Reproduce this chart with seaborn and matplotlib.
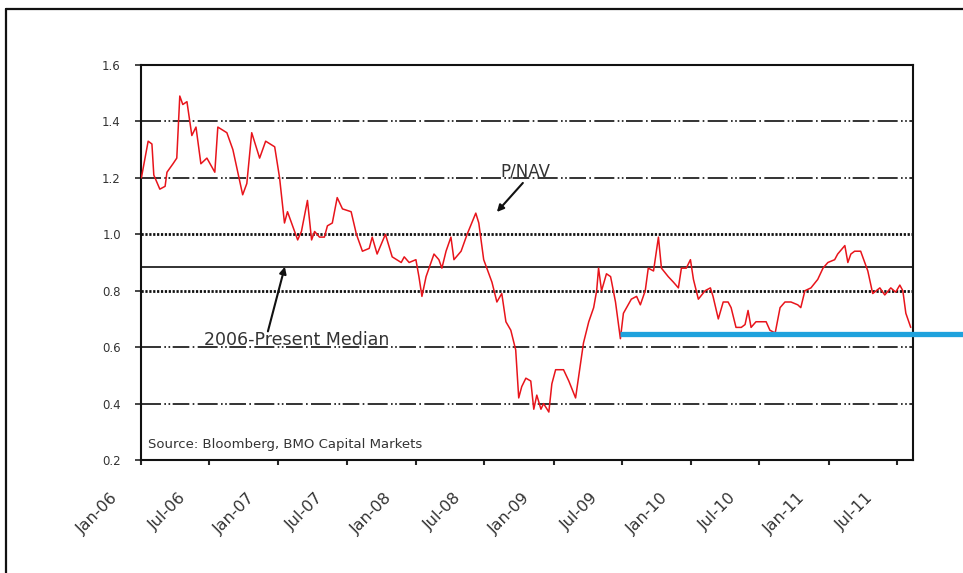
import matplotlib
matplotlib.use("Agg")
import matplotlib.pyplot as plt
import matplotlib.transforms as mtransforms
from matplotlib.lines import Line2D
import pandas as pd
import seaborn as sns

# ---------------- data ----------------
dates = [
    "2006-01-02", "2006-01-20", "2006-01-30", "2006-02-04", "2006-02-20", "2006-03-06",
    "2006-03-11", "2006-03-27", "2006-04-06", "2006-04-14", "2006-04-22", "2006-05-03",
    "2006-05-16", "2006-05-27", "2006-06-09", "2006-06-25", "2006-07-16", "2006-07-24",
    "2006-08-17", "2006-09-02", "2006-09-28", "2006-10-09", "2006-10-22", "2006-11-12",
    "2006-11-28", "2006-12-22", "2007-01-04", "2007-01-17", "2007-01-25", "2007-02-21",
    "2007-03-03", "2007-03-19", "2007-03-30", "2007-04-07", "2007-04-20", "2007-05-03",
    "2007-05-11", "2007-05-24", "2007-06-06", "2007-06-20", "2007-07-13", "2007-07-27",
    "2007-08-12", "2007-08-30", "2007-09-07", "2007-09-20", "2007-10-12", "2007-10-30",
    "2007-11-23", "2007-12-01", "2007-12-14", "2008-01-01", "2008-01-09", "2008-01-17",
    "2008-01-28", "2008-02-18", "2008-03-02", "2008-03-10", "2008-03-21", "2008-04-03",
    "2008-04-11", "2008-04-30", "2008-05-16", "2008-06-08", "2008-06-16", "2008-06-29",
    "2008-07-21", "2008-08-03", "2008-08-16", "2008-08-27", "2008-09-09", "2008-09-22",
    "2008-09-30", "2008-10-08", "2008-10-19", "2008-11-01", "2008-11-09", "2008-11-17",
    "2008-11-28", "2008-12-05", "2008-12-19", "2008-12-27", "2009-01-06", "2009-01-27",
    "2009-02-10", "2009-02-28", "2009-03-13", "2009-03-21", "2009-04-04", "2009-04-17",
    "2009-04-25", "2009-04-30", "2009-05-08", "2009-05-21", "2009-06-01", "2009-06-14",
    "2009-06-27", "2009-07-05", "2009-07-26", "2009-08-09", "2009-08-19", "2009-09-01",
    "2009-09-09", "2009-09-23", "2009-10-06", "2009-10-14", "2009-11-01", "2009-11-15",
    "2009-11-28", "2009-12-06", "2009-12-19", "2009-12-30", "2010-01-07", "2010-01-20",
    "2010-02-07", "2010-02-21", "2010-02-28", "2010-03-14", "2010-03-27", "2010-04-09",
    "2010-04-17", "2010-04-30", "2010-05-14", "2010-05-24", "2010-06-01", "2010-06-09",
    "2010-06-22", "2010-07-06", "2010-07-19", "2010-07-29", "2010-08-12", "2010-08-25",
    "2010-09-07", "2010-09-23", "2010-10-11", "2010-10-19", "2010-10-30", "2010-11-15",
    "2010-12-03", "2010-12-17", "2010-12-30", "2011-01-17", "2011-01-25", "2011-02-13",
    "2011-02-21", "2011-03-01", "2011-03-11", "2011-03-27", "2011-04-07", "2011-04-15",
    "2011-04-28", "2011-05-17", "2011-05-30", "2011-06-15", "2011-06-28", "2011-07-09",
    "2011-07-17", "2011-07-25", "2011-08-07",
]
pnav = [
    1.20, 1.33, 1.32, 1.21, 1.16, 1.17,
    1.22, 1.25, 1.27, 1.49, 1.46, 1.47,
    1.35, 1.38, 1.25, 1.27, 1.22, 1.38,
    1.36, 1.30, 1.14, 1.18, 1.36, 1.27,
    1.33, 1.31, 1.20, 1.04, 1.08, 0.98,
    1.01, 1.12, 0.98, 1.01, 0.99, 0.99,
    1.03, 1.04, 1.13, 1.09, 1.08, 1.00,
    0.94, 0.95, 0.99, 0.93, 1.00, 0.92,
    0.90, 0.92, 0.90, 0.91, 0.85, 0.78,
    0.85, 0.93, 0.91, 0.88, 0.94, 0.99,
    0.91, 0.94, 1.00, 1.075, 1.04, 0.91,
    0.83, 0.76, 0.79, 0.69, 0.66, 0.59,
    0.42, 0.46, 0.49, 0.48, 0.38, 0.43,
    0.38, 0.40, 0.37, 0.47, 0.52, 0.52,
    0.48, 0.42, 0.54, 0.615, 0.69, 0.74,
    0.80, 0.88, 0.80, 0.86, 0.85, 0.76,
    0.63, 0.72, 0.77, 0.78, 0.75, 0.80,
    0.88, 0.87, 0.99, 0.88, 0.85, 0.83,
    0.81, 0.88, 0.88, 0.91, 0.84, 0.77,
    0.80, 0.81, 0.78, 0.70, 0.76, 0.76,
    0.74, 0.67, 0.67, 0.68, 0.73, 0.67,
    0.69, 0.69, 0.69, 0.66, 0.65, 0.74,
    0.76, 0.76, 0.75, 0.74, 0.80, 0.81,
    0.84, 0.88, 0.90, 0.91, 0.93, 0.96,
    0.90, 0.93, 0.94, 0.94, 0.90, 0.87,
    0.79, 0.81, 0.785, 0.81, 0.795, 0.82,
    0.80, 0.72, 0.67,
]
median_value = 0.885
current_level = 0.647
current_start = "2009-06-27"

y_ticks = [0.2, 0.4, 0.6, 0.8, 1.0, 1.2, 1.4, 1.6]
y_tick_labels = ["0.2", "0.4", "0.6", "0.8", "1.0", "1.2", "1.4", "1.6"]
x_tick_dates = ["2006-01-01", "2006-07-01", "2007-01-01", "2007-07-01", "2008-01-01",
                "2008-07-01", "2009-01-01", "2009-07-01", "2010-01-01", "2010-07-01",
                "2011-01-01", "2011-07-01"]
x_tick_labels = ["Jan-06", "Jul-06", "Jan-07", "Jul-07", "Jan-08", "Jul-08", "Jan-09",
                 "Jul-09", "Jan-10", "Jul-10", "Jan-11", "Jul-11"]
x_start, x_end = "2006-01-01", "2011-08-13"

grid_dashdot = [0.4, 0.6, 1.2, 1.4]
grid_dotted = [0.8, 1.0]

# ---------------- figure ----------------
sns.set_style("white")
plt.rcParams["font.family"] = ["DejaVu Sans"]

df = pd.DataFrame({"date": pd.to_datetime(dates), "pnav": pnav})

fig = plt.figure(figsize=(9.63, 5.73), dpi=100)
ax = fig.add_axes([141 / 963, 1 - 460 / 573, (913 - 141) / 963, (460 - 65) / 573])

for g in grid_dashdot:
    ax.axhline(g, color="#111111", lw=1.2, zorder=1,
               linestyle=(0, (12, 2, 1, 1.5, 1, 1.5, 10, 2, 1, 2)))
for g in grid_dotted:
    ax.axhline(g, color="#111111", lw=2.0, zorder=1, linestyle=(0, (0.8, 0.6)))
ax.axhline(median_value, color="#222222", lw=1.3, zorder=2)

sns.lineplot(data=df, x="date", y="pnav", ax=ax, color="#E8141B", lw=1.1, zorder=3)

ax.set_xlim(pd.Timestamp(x_start), pd.Timestamp(x_end))
ax.set_ylim(y_ticks[0], y_ticks[-1])
ax.set_xlabel("")
ax.set_ylabel("")

ax.set_yticks(y_ticks)
ax.set_yticklabels(y_tick_labels, fontsize=8.5, color="#333333")
ax.set_xticks(pd.to_datetime(x_tick_dates))
ax.set_xticklabels(x_tick_labels, fontsize=11.5, color="#333333", rotation=45,
                   ha="right", va="center", rotation_mode="anchor")
ax.tick_params(axis="y", direction="out", length=4.5, width=1.2, pad=10, left=True)
ax.tick_params(axis="x", direction="out", length=3.8, width=1.5, pad=13, bottom=True)
offset = mtransforms.ScaledTranslation(-0.26, -0.12, fig.dpi_scale_trans)
for lab in ax.get_xticklabels():
    lab.set_transform(lab.get_transform() + offset)

for side in ["left", "right", "top", "bottom"]:
    ax.spines[side].set_visible(True)
    ax.spines[side].set_color("#111111")
    ax.spines[side].set_linewidth(1.5)

# blue current-level line extending to the figure edge
x_fig_edge = ax.transData.inverted().transform(fig.transFigure.transform((1.0, 0.0)))[0]
x_blue_start = matplotlib.dates.date2num(pd.Timestamp(current_start))
ax.plot([x_blue_start, x_fig_edge], [current_level, current_level], color="#1FA2DD",
        lw=3.8, solid_capstyle="butt", clip_on=False, zorder=4)

# annotations
ax.text(pd.Timestamp("2008-10-17"), 1.221, "P/NAV", fontsize=12, color="#333333",
        ha="center", va="center", zorder=5)
ax.annotate("", xy=(pd.Timestamp("2008-08-03"), 1.079),
            xytext=(pd.Timestamp("2008-10-11"), 1.182),
            arrowprops=dict(arrowstyle="-|>", color="#111111", lw=1.5,
                            mutation_scale=10, shrinkA=0, shrinkB=0), zorder=5)
ax.text(pd.Timestamp("2007-02-18"), 0.627, "2006-Present Median", fontsize=12.5,
        color="#333333", ha="center", va="center", zorder=5)
ax.annotate("", xy=(pd.Timestamp("2007-01-18"), median_value),
            xytext=(pd.Timestamp("2006-12-04"), 0.656),
            arrowprops=dict(arrowstyle="-|>", color="#111111", lw=1.5,
                            mutation_scale=10, shrinkA=0, shrinkB=0), zorder=5)
ax.text(0.009, 0.038, "Source: Bloomberg, BMO Capital Markets", transform=ax.transAxes,
        fontsize=9.5, color="#333333", ha="left", va="center", zorder=5)

# outer frame (top and left)
fig.add_artist(Line2D([6 / 963, 1.0], [1 - 9 / 573, 1 - 9 / 573], color="#111111",
                      lw=1.6, transform=fig.transFigure))
fig.add_artist(Line2D([6 / 963, 6 / 963], [0.0, 1 - 9 / 573], color="#111111",
                      lw=1.6, transform=fig.transFigure))

fig.savefig("out.png", dpi=100, facecolor="white")
